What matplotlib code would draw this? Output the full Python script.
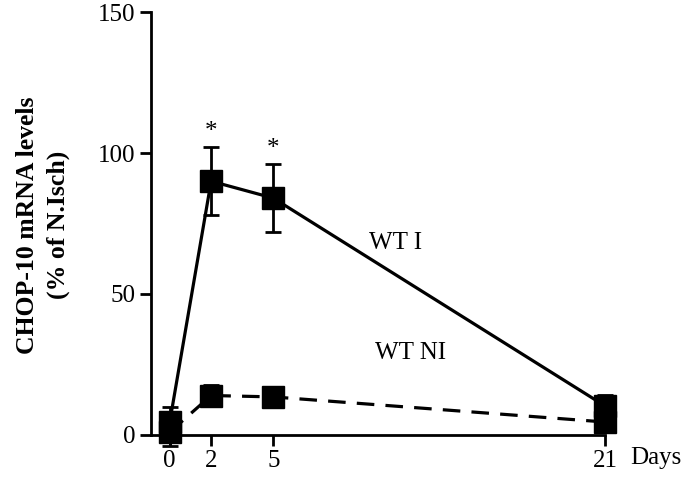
import matplotlib.pyplot as plt

plt.rcParams['font.family'] = ['Liberation Serif', 'DejaVu Serif']

days = [0, 2, 5, 21]
wt_i = [4.5, 90, 84, 10.3]
wt_i_err = [5.5, 12, 12, 4]
wt_ni = [1, 14, 13.5, 4.6]
wt_ni_err = [5, 3.7, 3.5, 2.5]
x_ticks = [0, 2, 5, 21]
y_ticks = [0, 50, 100, 150]

fig = plt.figure(figsize=(6.94, 4.79), dpi=100)
ax = fig.add_axes([0.2176, 0.0919, 0.6542, 0.883])

# WT NI (gestrichelt)
ax.errorbar(days, wt_ni, yerr=wt_ni_err, color='black', linestyle='--', dashes=(5.5, 3.5),
            linewidth=2.3, marker='s', markersize=15.5, capsize=6, elinewidth=2,
            capthick=2, clip_on=False, zorder=3)
# WT I (durchgezogen)
ax.errorbar(days, wt_i, yerr=wt_i_err, color='black', linestyle='-',
            linewidth=2.3, marker='s', markersize=15.5, capsize=6, elinewidth=2,
            capthick=2, clip_on=False, zorder=4)

# Sternchen über den Fehlerbalken
for i in [1, 2]:
    ax.text(days[i], wt_i[i] + wt_i_err[i] + 1.5, '*', ha='center', va='bottom', fontsize=18)

ax.text(10.9, 68, 'WT I', fontsize=18, ha='center', va='center')
ax.text(11.6, 29, 'WT NI', fontsize=18, ha='center', va='center')

ax.set_xlim(-0.9, 21)
ax.set_ylim(0, 150)
ax.set_xticks(x_ticks)
ax.set_yticks(y_ticks)
ax.tick_params(axis='both', direction='out', length=8, width=2, labelsize=18, pad=3)

for s in ['top', 'right']:
    ax.spines[s].set_visible(False)
for s in ['left', 'bottom']:
    ax.spines[s].set_linewidth(2)

ax.set_ylabel('CHOP-10 mRNA levels\n(% of N.Isch)', fontsize=18.5, fontweight='bold',
              linespacing=1.45)
ax.yaxis.set_label_coords(-0.178, 0.496)

ax.text(1.055, -0.054, 'Days', transform=ax.transAxes, fontsize=18, ha='left', va='center')

plt.savefig('out.png', dpi=100)
